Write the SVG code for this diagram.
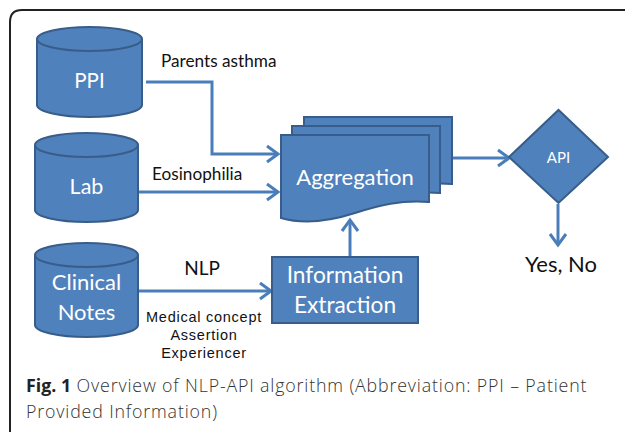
<svg xmlns="http://www.w3.org/2000/svg" width="625" height="432" viewBox="0 0 625 432">
<style>
.shape{fill:#4F81BD;stroke:#385D8A;stroke-width:2}
.edge{fill:none;stroke:#4A7EBB;stroke-width:3}
.in{fill:#ffffff;font-family:Lato,"Open Sans",sans-serif;text-anchor:middle}
.lbl{fill:#111111;font-family:Lato,"Open Sans",sans-serif}
.cap{fill:#333333;font-family:"Open Sans",sans-serif;font-size:17.8px;font-weight:300;letter-spacing:0.85px}
</style>
<defs>
<marker id="arr" markerUnits="userSpaceOnUse" viewBox="0 0 16 20" markerWidth="16" markerHeight="20" refX="13" refY="10" orient="auto">
<path d="M2,2 L13,10 L2,18" fill="none" stroke="#4A7EBB" stroke-width="3"/>
</marker>
</defs>
<rect width="625" height="432" fill="#ffffff"/>
<path d="M10,432 V22 Q10,10 22,10 H625" fill="none" stroke="#222222" stroke-width="2"/>

<g id="connectors">
<path class="edge" d="M146,82 H212 V154 H278" marker-end="url(#arr)"/>
<path class="edge" d="M139,192 H278" marker-end="url(#arr)"/>
<path class="edge" d="M139,291 H271" marker-end="url(#arr)"/>
<path class="edge" d="M350,257 V220" marker-end="url(#arr)"/>
<path class="edge" d="M453,158 H509" marker-end="url(#arr)"/>
<path class="edge" d="M558,204 V245" marker-end="url(#arr)"/>
<text class="lbl" x="161" y="67" font-size="17.2">Parents asthma</text>
<text class="lbl" x="152" y="180" font-size="17.2">Eosinophilia</text>
<text class="lbl" x="202" y="275" font-size="19" text-anchor="middle">NLP</text>
<g font-family="'Liberation Sans',Arial,sans-serif" font-size="14.5" letter-spacing="0.75" fill="#111111" text-anchor="middle">
<text x="204" y="322">Medical concept</text>
<text x="204" y="340">Assertion</text>
<text x="204" y="358">Experiencer</text>
</g>
</g>

<g id="ppi">
<path class="shape" d="M37,39 A52.5,12 0 0 1 142,39 V105 A52.5,12 0 0 1 37,105 Z"/>
<path d="M37,39 A52.5,12 0 0 0 142,39" fill="none" stroke="#385D8A" stroke-width="2"/>
<text class="in" x="89.5" y="88" font-size="20.5">PPI</text>
</g>

<g id="lab">
<path class="shape" d="M35,145 A51.5,12 0 0 1 138,145 V210 A51.5,12 0 0 1 35,210 Z"/>
<path d="M35,145 A51.5,12 0 0 0 138,145" fill="none" stroke="#385D8A" stroke-width="2"/>
<text class="in" x="86.5" y="194" font-size="21.5">Lab</text>
</g>

<g id="clinical">
<path class="shape" d="M35,255 A51.5,12 0 0 1 138,255 V325 A51.5,12 0 0 1 35,325 Z"/>
<path d="M35,255 A51.5,12 0 0 0 138,255" fill="none" stroke="#385D8A" stroke-width="2"/>
<text class="in" x="86.5" y="290" font-size="22">Clinical</text>
<text class="in" x="86.5" y="320" font-size="22">Notes</text>
</g>

<g id="aggregation">
<path class="shape" transform="translate(23,-18)" d="M281,135 H429 V202 C400,200 380,205 355,213 C330,221 305,225 281,218 Z"/>
<path class="shape" transform="translate(11,-9)" d="M281,135 H429 V202 C400,200 380,205 355,213 C330,221 305,225 281,218 Z"/>
<path class="shape" d="M281,135 H429 V202 C400,200 380,205 355,213 C330,221 305,225 281,218 Z"/>
<text class="in" x="355" y="185" font-size="22">Aggregation</text>
</g>

<g id="extraction">
<rect class="shape" x="272" y="257" width="146" height="66"/>
<text class="in" x="345" y="283" font-size="22.7">Information</text>
<text class="in" x="345" y="313" font-size="22.7">Extraction</text>
</g>

<g id="api">
<path class="shape" d="M509,157 L558.5,110 L608,157 L558.5,203 Z"/>
<text class="in" x="558.5" y="163" font-size="15">API</text>
</g>

<g id="result">
<text class="lbl" x="561" y="272" font-size="22" text-anchor="middle">Yes, No</text>
</g>

<g id="caption">
<text class="cap" x="26" y="392"><tspan font-weight="bold" fill="#222222" letter-spacing="0">Fig. 1</tspan> Overview of NLP-API algorithm (Abbreviation: PPI – Patient</text>
<text class="cap" x="26" y="418">Provided Information)</text>
</g>
</svg>
